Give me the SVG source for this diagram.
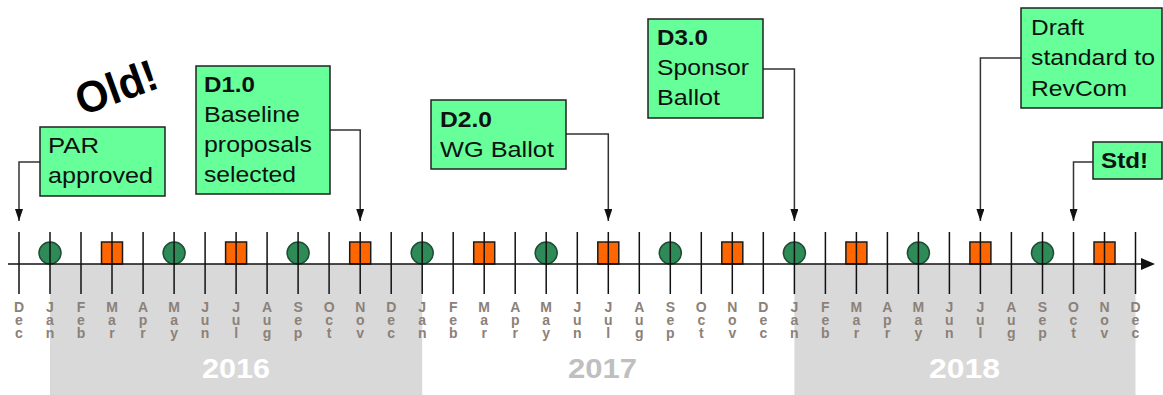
<svg xmlns="http://www.w3.org/2000/svg" width="1163" height="395" viewBox="0 0 1163 395">
<style>
.box{fill:#66ff99;stroke:#222;stroke-width:1.5}
.bt{font-family:"Liberation Sans",Arial,sans-serif;font-size:22px;fill:#111}
.b{font-weight:bold}
.conn{fill:none;stroke:#333;stroke-width:1.5}
.tick{stroke:#111;stroke-width:1.5}
.mo{font-family:"Liberation Sans",Arial,sans-serif;font-size:14px;font-weight:bold;fill:#8c8178;text-anchor:middle}
.yr{font-family:"Liberation Sans",Arial,sans-serif;font-size:28px;font-weight:bold}
.circ{fill:#2e8b57;stroke:#1d4d34;stroke-width:1.5}
.sq{fill:#ff6600;stroke:#1a1a1a;stroke-width:1.5}
</style>
<defs>
<marker id="arr" viewBox="0 0 8 12" refX="4" refY="12" markerWidth="8" markerHeight="12" markerUnits="userSpaceOnUse" orient="0">
<path d="M0,0 L8,0 L4,12 Z" fill="#111"/>
</marker>
</defs>
<rect width="1163" height="395" fill="#fff"/>
<g id="year-bands">
<rect x="50" y="264" width="372.2" height="131" fill="#d9d9d9"/>
<rect x="794.4" y="264" width="341.1" height="131" fill="#d9d9d9"/>
<text class="yr" x="202" y="378" textLength="68" lengthAdjust="spacingAndGlyphs" fill="#ffffff">2016</text>
<text class="yr" x="568" y="378" textLength="69" lengthAdjust="spacingAndGlyphs" fill="#bfbfbf">2017</text>
<text class="yr" x="929" y="378" textLength="71" lengthAdjust="spacingAndGlyphs" fill="#ffffff">2018</text>
</g>
<g id="markers">
<circle class="circ" cx="50" cy="253" r="11"/>
<circle class="circ" cx="174.1" cy="253" r="11"/>
<circle class="circ" cx="298.1" cy="253" r="11"/>
<circle class="circ" cx="422.2" cy="253" r="11"/>
<circle class="circ" cx="546.2" cy="253" r="11"/>
<circle class="circ" cx="670.3" cy="253" r="11"/>
<circle class="circ" cx="794.4" cy="253" r="11"/>
<circle class="circ" cx="918.4" cy="253" r="11"/>
<circle class="circ" cx="1042.5" cy="253" r="11"/>
<rect class="sq" x="101.5" y="242" width="21" height="22"/>
<rect class="sq" x="225.6" y="242" width="21" height="22"/>
<rect class="sq" x="349.7" y="242" width="21" height="22"/>
<rect class="sq" x="473.7" y="242" width="21" height="22"/>
<rect class="sq" x="597.8" y="242" width="21" height="22"/>
<rect class="sq" x="721.8" y="242" width="21" height="22"/>
<rect class="sq" x="845.9" y="242" width="21" height="22"/>
<rect class="sq" x="969.9" y="242" width="21" height="22"/>
<rect class="sq" x="1094" y="242" width="21" height="22"/>
</g>
<g id="axis">
<line class="tick" x1="8" y1="264" x2="1143" y2="264"/>
<path d="M1141,258 L1155,264 L1141,270 Z" fill="#111"/>
<g class="tick">
<line x1="19" y1="232" x2="19" y2="294"/>
<line x1="50" y1="232" x2="50" y2="294"/>
<line x1="81" y1="232" x2="81" y2="294"/>
<line x1="112" y1="232" x2="112" y2="294"/>
<line x1="143.1" y1="232" x2="143.1" y2="294"/>
<line x1="174.1" y1="232" x2="174.1" y2="294"/>
<line x1="205.1" y1="232" x2="205.1" y2="294"/>
<line x1="236.1" y1="232" x2="236.1" y2="294"/>
<line x1="267.1" y1="232" x2="267.1" y2="294"/>
<line x1="298.1" y1="232" x2="298.1" y2="294"/>
<line x1="329.1" y1="232" x2="329.1" y2="294"/>
<line x1="360.2" y1="232" x2="360.2" y2="294"/>
<line x1="391.2" y1="232" x2="391.2" y2="294"/>
<line x1="422.2" y1="232" x2="422.2" y2="294"/>
<line x1="453.2" y1="232" x2="453.2" y2="294"/>
<line x1="484.2" y1="232" x2="484.2" y2="294"/>
<line x1="515.2" y1="232" x2="515.2" y2="294"/>
<line x1="546.2" y1="232" x2="546.2" y2="294"/>
<line x1="577.3" y1="232" x2="577.3" y2="294"/>
<line x1="608.3" y1="232" x2="608.3" y2="294"/>
<line x1="639.3" y1="232" x2="639.3" y2="294"/>
<line x1="670.3" y1="232" x2="670.3" y2="294"/>
<line x1="701.3" y1="232" x2="701.3" y2="294"/>
<line x1="732.3" y1="232" x2="732.3" y2="294"/>
<line x1="763.3" y1="232" x2="763.3" y2="294"/>
<line x1="794.4" y1="232" x2="794.4" y2="294"/>
<line x1="825.4" y1="232" x2="825.4" y2="294"/>
<line x1="856.4" y1="232" x2="856.4" y2="294"/>
<line x1="887.4" y1="232" x2="887.4" y2="294"/>
<line x1="918.4" y1="232" x2="918.4" y2="294"/>
<line x1="949.4" y1="232" x2="949.4" y2="294"/>
<line x1="980.4" y1="232" x2="980.4" y2="294"/>
<line x1="1011.4" y1="232" x2="1011.4" y2="294"/>
<line x1="1042.5" y1="232" x2="1042.5" y2="294"/>
<line x1="1073.5" y1="232" x2="1073.5" y2="294"/>
<line x1="1104.5" y1="232" x2="1104.5" y2="294"/>
<line x1="1135.5" y1="232" x2="1135.5" y2="294"/>
</g>
</g>
<g id="months">
<text class="mo"><tspan x="19" y="312">D</tspan><tspan x="19" y="325">e</tspan><tspan x="19" y="338">c</tspan></text>
<text class="mo"><tspan x="50" y="312">J</tspan><tspan x="50" y="325">a</tspan><tspan x="50" y="338">n</tspan></text>
<text class="mo"><tspan x="81" y="312">F</tspan><tspan x="81" y="325">e</tspan><tspan x="81" y="338">b</tspan></text>
<text class="mo"><tspan x="112" y="312">M</tspan><tspan x="112" y="325">a</tspan><tspan x="112" y="338">r</tspan></text>
<text class="mo"><tspan x="143.1" y="312">A</tspan><tspan x="143.1" y="325">p</tspan><tspan x="143.1" y="338">r</tspan></text>
<text class="mo"><tspan x="174.1" y="312">M</tspan><tspan x="174.1" y="325">a</tspan><tspan x="174.1" y="338">y</tspan></text>
<text class="mo"><tspan x="205.1" y="312">J</tspan><tspan x="205.1" y="325">u</tspan><tspan x="205.1" y="338">n</tspan></text>
<text class="mo"><tspan x="236.1" y="312">J</tspan><tspan x="236.1" y="325">u</tspan><tspan x="236.1" y="338">l</tspan></text>
<text class="mo"><tspan x="267.1" y="312">A</tspan><tspan x="267.1" y="325">u</tspan><tspan x="267.1" y="338">g</tspan></text>
<text class="mo"><tspan x="298.1" y="312">S</tspan><tspan x="298.1" y="325">e</tspan><tspan x="298.1" y="338">p</tspan></text>
<text class="mo"><tspan x="329.1" y="312">O</tspan><tspan x="329.1" y="325">c</tspan><tspan x="329.1" y="338">t</tspan></text>
<text class="mo"><tspan x="360.2" y="312">N</tspan><tspan x="360.2" y="325">o</tspan><tspan x="360.2" y="338">v</tspan></text>
<text class="mo"><tspan x="391.2" y="312">D</tspan><tspan x="391.2" y="325">e</tspan><tspan x="391.2" y="338">c</tspan></text>
<text class="mo"><tspan x="422.2" y="312">J</tspan><tspan x="422.2" y="325">a</tspan><tspan x="422.2" y="338">n</tspan></text>
<text class="mo"><tspan x="453.2" y="312">F</tspan><tspan x="453.2" y="325">e</tspan><tspan x="453.2" y="338">b</tspan></text>
<text class="mo"><tspan x="484.2" y="312">M</tspan><tspan x="484.2" y="325">a</tspan><tspan x="484.2" y="338">r</tspan></text>
<text class="mo"><tspan x="515.2" y="312">A</tspan><tspan x="515.2" y="325">p</tspan><tspan x="515.2" y="338">r</tspan></text>
<text class="mo"><tspan x="546.2" y="312">M</tspan><tspan x="546.2" y="325">a</tspan><tspan x="546.2" y="338">y</tspan></text>
<text class="mo"><tspan x="577.3" y="312">J</tspan><tspan x="577.3" y="325">u</tspan><tspan x="577.3" y="338">n</tspan></text>
<text class="mo"><tspan x="608.3" y="312">J</tspan><tspan x="608.3" y="325">u</tspan><tspan x="608.3" y="338">l</tspan></text>
<text class="mo"><tspan x="639.3" y="312">A</tspan><tspan x="639.3" y="325">u</tspan><tspan x="639.3" y="338">g</tspan></text>
<text class="mo"><tspan x="670.3" y="312">S</tspan><tspan x="670.3" y="325">e</tspan><tspan x="670.3" y="338">p</tspan></text>
<text class="mo"><tspan x="701.3" y="312">O</tspan><tspan x="701.3" y="325">c</tspan><tspan x="701.3" y="338">t</tspan></text>
<text class="mo"><tspan x="732.3" y="312">N</tspan><tspan x="732.3" y="325">o</tspan><tspan x="732.3" y="338">v</tspan></text>
<text class="mo"><tspan x="763.3" y="312">D</tspan><tspan x="763.3" y="325">e</tspan><tspan x="763.3" y="338">c</tspan></text>
<text class="mo"><tspan x="794.4" y="312">J</tspan><tspan x="794.4" y="325">a</tspan><tspan x="794.4" y="338">n</tspan></text>
<text class="mo"><tspan x="825.4" y="312">F</tspan><tspan x="825.4" y="325">e</tspan><tspan x="825.4" y="338">b</tspan></text>
<text class="mo"><tspan x="856.4" y="312">M</tspan><tspan x="856.4" y="325">a</tspan><tspan x="856.4" y="338">r</tspan></text>
<text class="mo"><tspan x="887.4" y="312">A</tspan><tspan x="887.4" y="325">p</tspan><tspan x="887.4" y="338">r</tspan></text>
<text class="mo"><tspan x="918.4" y="312">M</tspan><tspan x="918.4" y="325">a</tspan><tspan x="918.4" y="338">y</tspan></text>
<text class="mo"><tspan x="949.4" y="312">J</tspan><tspan x="949.4" y="325">u</tspan><tspan x="949.4" y="338">n</tspan></text>
<text class="mo"><tspan x="980.4" y="312">J</tspan><tspan x="980.4" y="325">u</tspan><tspan x="980.4" y="338">l</tspan></text>
<text class="mo"><tspan x="1011.4" y="312">A</tspan><tspan x="1011.4" y="325">u</tspan><tspan x="1011.4" y="338">g</tspan></text>
<text class="mo"><tspan x="1042.5" y="312">S</tspan><tspan x="1042.5" y="325">e</tspan><tspan x="1042.5" y="338">p</tspan></text>
<text class="mo"><tspan x="1073.5" y="312">O</tspan><tspan x="1073.5" y="325">c</tspan><tspan x="1073.5" y="338">t</tspan></text>
<text class="mo"><tspan x="1104.5" y="312">N</tspan><tspan x="1104.5" y="325">o</tspan><tspan x="1104.5" y="338">v</tspan></text>
<text class="mo"><tspan x="1135.5" y="312">D</tspan><tspan x="1135.5" y="325">e</tspan><tspan x="1135.5" y="338">c</tspan></text>
</g>
<g id="connectors">
<path class="conn" d="M40,162 H19 V221" marker-end="url(#arr)"/>
<path class="conn" d="M330,130 H360.2 V221" marker-end="url(#arr)"/>
<path class="conn" d="M566,134 H608.3 V221" marker-end="url(#arr)"/>
<path class="conn" d="M763,69 H794.4 V221" marker-end="url(#arr)"/>
<path class="conn" d="M1021,58 H980.4 V221" marker-end="url(#arr)"/>
<path class="conn" d="M1093,162 H1073.5 V221" marker-end="url(#arr)"/>
</g>
<g id="old">
<text transform="translate(82,116) rotate(-20)" font-family="Liberation Sans,Arial,sans-serif" font-size="44" font-weight="bold" fill="#000" textLength="84" lengthAdjust="spacingAndGlyphs">Old!</text>
</g>
<g id="node-par">
<rect class="box" x="40" y="127" width="125" height="69"/>
<text class="bt" x="48" y="153" textLength="51" lengthAdjust="spacingAndGlyphs">PAR</text>
<text class="bt" x="48" y="183" textLength="105" lengthAdjust="spacingAndGlyphs">approved</text>
</g>
<g id="node-d1">
<rect class="box" x="196" y="66" width="134" height="128"/>
<text class="bt b" x="204" y="92" textLength="51" lengthAdjust="spacingAndGlyphs">D1.0</text>
<text class="bt" x="204" y="122" textLength="96" lengthAdjust="spacingAndGlyphs">Baseline</text>
<text class="bt" x="204" y="152" textLength="108" lengthAdjust="spacingAndGlyphs">proposals</text>
<text class="bt" x="204" y="182" textLength="92" lengthAdjust="spacingAndGlyphs">selected</text>
</g>
<g id="node-d2">
<rect class="box" x="431" y="100" width="135" height="69"/>
<text class="bt b" x="440" y="127" textLength="52" lengthAdjust="spacingAndGlyphs">D2.0</text>
<text class="bt" x="440" y="157" textLength="114" lengthAdjust="spacingAndGlyphs">WG Ballot</text>
</g>
<g id="node-d3">
<rect class="box" x="648" y="19" width="115" height="99"/>
<text class="bt b" x="657" y="45" textLength="51" lengthAdjust="spacingAndGlyphs">D3.0</text>
<text class="bt" x="657" y="75" textLength="92" lengthAdjust="spacingAndGlyphs">Sponsor</text>
<text class="bt" x="657" y="105" textLength="63" lengthAdjust="spacingAndGlyphs">Ballot</text>
</g>
<g id="node-draft">
<rect class="box" x="1021" y="8" width="141" height="100"/>
<text class="bt" x="1031" y="35" textLength="53" lengthAdjust="spacingAndGlyphs">Draft</text>
<text class="bt" x="1031" y="65" textLength="124" lengthAdjust="spacingAndGlyphs">standard to</text>
<text class="bt" x="1031" y="96" textLength="96" lengthAdjust="spacingAndGlyphs">RevCom</text>
</g>
<g id="node-std">
<rect class="box" x="1093" y="142" width="69" height="37"/>
<text class="bt b" x="1101" y="168" textLength="47" lengthAdjust="spacingAndGlyphs">Std!</text>
</g>
</svg>
